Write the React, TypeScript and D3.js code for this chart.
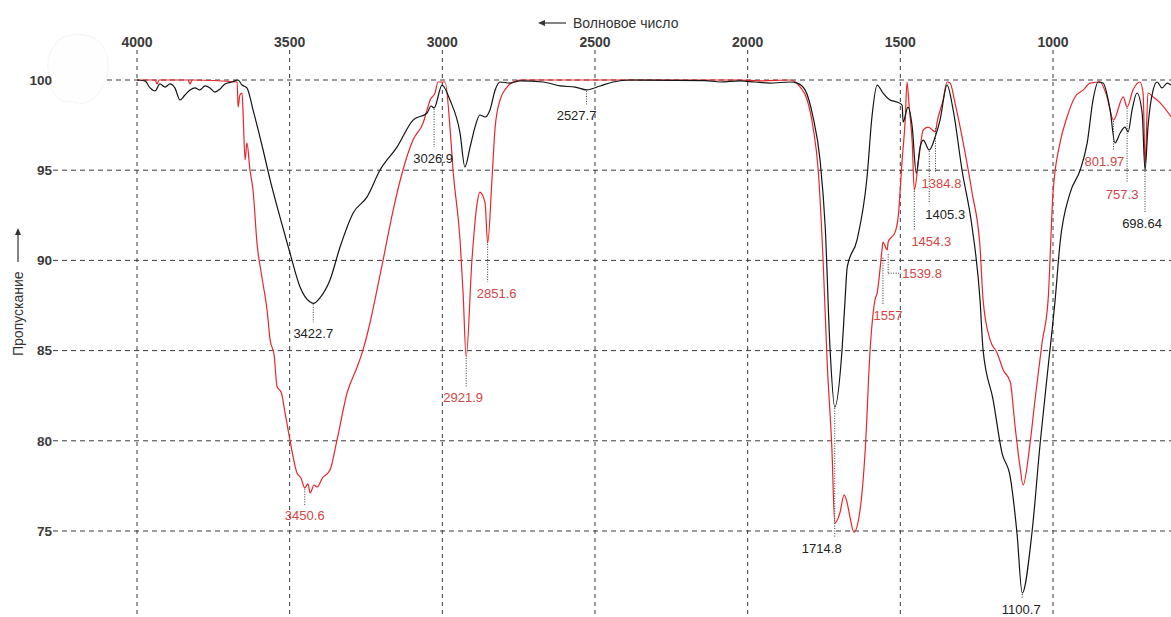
import React from 'react';
import * as d3 from 'd3';

const W = 1171;
const H = 617;

const xTicks = [4000, 3500, 3000, 2500, 2000, 1500, 1000];
const yTicks = [100, 95, 90, 85, 80, 75];

// sample 1 (black) : [wavenumber, transmittance]
const blackSpectrum: [number, number][] = [
  [4000, 100], [3974, 99.95], [3957, 99.56], [3941, 99.39], [3925, 99.78], [3908, 99.61], [3892, 99.78],
  [3876, 99.56], [3859, 98.89], [3843, 99.17], [3826, 99.45], [3810, 99.56], [3794, 99.45], [3777, 99.67],
  [3761, 99.56], [3745, 99.33], [3728, 99.5], [3712, 99.78], [3689, 99.89], [3669, 100], [3656, 99.72],
  [3640, 99.56], [3620, 98.34], [3587, 96.12], [3564, 94.46], [3532, 92.41], [3499, 90.41], [3466, 88.53],
  [3433, 87.69], [3422.7, 87.62], [3401, 87.92], [3368, 88.91], [3335, 90.74], [3292, 92.63], [3247, 93.51],
  [3204, 95.01], [3148, 96.29], [3096, 97.78], [3050, 98.17], [3037, 98.56], [3026.9, 98.45], [3001, 99.72],
  [2975, 98.89], [2942, 97.06], [2926, 95.18], [2909, 96.29], [2893, 97.39], [2877, 98.06], [2860, 97.95],
  [2844, 98.34], [2827, 99.45], [2811, 99.89], [2778, 99.83], [2745, 99.95], [2670, 99.89], [2614, 99.67],
  [2565, 99.61], [2527.7, 99.45], [2483, 99.67], [2441, 99.89], [2385, 100], [2140, 99.97], [2090, 99.89],
  [2025, 99.95], [1976, 99.89], [1927, 99.83], [1861, 99.89], [1838, 99.83], [1812, 99.45], [1786, 97.95],
  [1763, 95.57], [1746, 91.85], [1730, 85.03], [1714.8, 81.87], [1691, 85.03], [1681, 87.81], [1674, 89.63],
  [1642, 91.13], [1609, 94.62], [1593, 97.95], [1576, 99.72], [1557, 99.28], [1534, 98.89], [1511, 98.78],
  [1494, 98.61], [1491, 97.67], [1475, 98.5], [1461, 97.39], [1448, 94.84], [1435, 96.29], [1425, 96.67],
  [1405.3, 96.12], [1386, 96.84], [1370, 97.78], [1347, 99.72], [1327, 98.34], [1298, 95.01], [1265, 91.85],
  [1239, 87.81], [1229, 85.03], [1196, 82.26], [1167, 79.32], [1140, 77.99], [1118, 74.89], [1100.7, 71.56],
  [1069, 74.89], [1042, 79.88], [1016, 84.09], [993, 87.81], [977, 90.96], [944, 93.74], [911, 95.01],
  [888, 96.51], [869, 98.89], [852, 99.89], [836, 99.83], [813, 98.34], [797, 96.51], [780, 97.06],
  [764, 97.39], [754, 97.12], [741, 98.34], [725, 99.28], [708, 98.17], [698.64, 95.01], [689, 97.39],
  [672, 99.45], [659, 99.89], [643, 99.56], [626, 99.83], [613, 99.72],
];

// sample 2 (red)
const redSpectrum: [number, number][] = [
  [4000, 100], [3941, 100], [3934, 99.78], [3928, 100], [3833, 100], [3826, 99.78], [3820, 100],
  [3672, 99.89], [3669, 98.5], [3663, 99.17], [3656, 99.28], [3653, 98.34], [3646, 95.57], [3640, 96.51],
  [3630, 95.01], [3620, 93.9], [3607, 90.96], [3591, 89.08], [3574, 87.25], [3564, 85.59], [3551, 84.76],
  [3541, 82.98], [3528, 82.71], [3515, 81.54], [3499, 80.04], [3476, 78.22], [3463, 77.94], [3450.6, 77.39],
  [3440, 77.61], [3433, 77.11], [3420, 77.55], [3410, 77.44], [3391, 77.99], [3378, 78.16], [3368, 78.38],
  [3345, 80.04], [3312, 82.65], [3279, 84.09], [3260, 85.03], [3237, 86.53], [3214, 88.36], [3194, 90.02],
  [3161, 92.79], [3129, 95.01], [3096, 96.67], [3063, 97.62], [3050, 98.34], [3040, 98.89], [3024, 99.28],
  [3014, 99.89], [2991, 99.89], [2975, 97.39], [2965, 95.01], [2942, 91.13], [2932, 88.19], [2921.9, 84.65],
  [2903, 90.02], [2886, 93.18], [2877, 93.79], [2860, 93.18], [2851.6, 90.96], [2837, 94.62], [2827, 97.39],
  [2811, 98.89], [2788, 99.61], [2768, 99.89], [2745, 100], [2025, 100], [1959, 99.95], [1861, 100],
  [1828, 99.61], [1805, 98.89], [1786, 97.39], [1769, 95.01], [1753, 90.02], [1740, 84.48], [1724, 79.49],
  [1714.8, 75.44], [1698, 76.0], [1684, 77.0], [1674, 76.55], [1665, 75.78], [1652, 74.94], [1632, 76.16],
  [1615, 79.49], [1599, 85.03], [1583, 87.81], [1576, 88.19], [1560, 90.58], [1557, 91.02], [1543, 90.58],
  [1539.8, 91.02], [1517, 91.57], [1507, 92.41], [1494, 95.57], [1484, 97.78], [1478, 99.89], [1471, 98.5],
  [1461, 96.51], [1454.3, 93.9], [1439, 95.73], [1425, 97.23], [1409, 97.39], [1384.8, 97.12], [1380, 97.62],
  [1360, 98.89], [1347, 99.89], [1337, 99.83], [1321, 98.73], [1294, 96.51], [1265, 93.74], [1239, 90.74],
  [1229, 87.81], [1206, 85.59], [1183, 84.87], [1163, 83.93], [1140, 83.26], [1124, 80.77], [1108, 78.55],
  [1098, 77.55], [1075, 79.88], [1059, 82.26], [1036, 85.42], [1016, 87.81], [1000, 93.74], [977, 96.51],
  [954, 97.95], [928, 99.06], [901, 99.45], [878, 99.83], [846, 99.89], [823, 99.06], [801.97, 97.78],
  [770, 99.06], [757.3, 98.5], [738, 99.45], [715, 99.89], [705, 99.28], [698, 95.4], [689, 99.28],
  [672, 99.06], [649, 98.73], [613, 97.95],
];

// peak annotations
const annText = ['3422.7', '3026.9', '2527.7', '1714.8', '1405.3', '698.64', '1100.7',
  '3450.6', '2921.9', '2851.6', '1557', '1539.8', '1454.3', '1384.8', '801.97', '757.3'];
const annWn = [3422.7, 3026.9, 2527.7, 1714.8, 1405.3, 698.64, 1100.7,
  3450.6, 2921.9, 2851.6, 1557, 1539.8, 1454.3, 1384.8, 801.97, 757.3];
const annT = [87.62, 98.45, 99.45, 81.87, 96.12, 95.01, 71.56,
  77.39, 84.65, 90.96, 90.2, 90.4, 93.9, 97.39, 97.78, 98.5];
const annSeries = ['b', 'b', 'b', 'b', 'b', 'b', 'b', 'r', 'r', 'r', 'r', 'r', 'r', 'r', 'r', 'r'];

// layout of annotation leaders (px)
const annLeader = [19, 39, 15, 130, 53, 42, 5, 17, 30, 39, 48, 20, 40, 45, 30, 76];
const annDx = [0, -1, -10, -13, 16, -3, -1, 0, -3, 9, 5, 0, 17, 6, -9, -5];
const annElbow = [0, 0, 0, 0, 0, 0, 0, 0, 0, 0, 0, 13, 0, 0, 0, 0];

const BLACK = '#141414';
const RED = '#e8262a';
const RED_TEXT = '#d24545';
const TEXT = '#333';
const FONT = 'Liberation Sans, Arial, sans-serif';

export default function App() {
  const x = d3.scaleLinear().domain([4000, 1000]).range([137, 1053]);
  const y = d3.scaleLinear().domain([100, 75]).range([80, 531]);
  const line = d3
    .line<[number, number]>()
    .x((d) => x(d[0]))
    .y((d) => y(d[1]))
    .curve(d3.curveMonotoneX);

  return (
    <svg
      width={W}
      height={H}
      style={{ position: 'absolute', left: 0, top: 0, background: '#fff' }}
      fontFamily={FONT}
    >
      <defs>
        <clipPath id="plot">
          <rect x={137} y={0} width={W - 137} height={H} />
        </clipPath>
      </defs>
      <rect x={0} y={0} width={W} height={H} fill="#fff" />

      {/* horizontal grid */}
      {yTicks.map((t) => (
        <line key={'h' + t} x1={53} x2={W} y1={y(t)} y2={y(t)} stroke="#3a3a3a" strokeDasharray="5,4" strokeWidth={1} />
      ))}
      {/* vertical grid */}
      {xTicks.map((t) => (
        <line key={'v' + t} x1={x(t)} x2={x(t)} y1={50} y2={H} stroke="#3a3a3a" strokeDasharray="4,4" strokeWidth={1} />
      ))}

      {/* faint blob */}
      <path
        d="M56,44 C60,32 94,31 101,44 C111,54 110,79 101,89 C96,101 82,107 72,101 C60,105 49,92 52,81 C45,70 47,52 56,44 Z"
        fill="#fefefe"
        stroke="#e6e6e6"
        strokeDasharray="1,1.5"
      />

      {/* tick labels */}
      {xTicks.map((t) => (
        <text key={'xt' + t} x={x(t)} y={47} textAnchor="middle" fontSize={14} fontWeight="bold" fill="#3a3a3a">
          {t}
        </text>
      ))}
      {yTicks.map((t) => (
        <text key={'yt' + t} x={52} y={y(t)} dy="0.35em" textAnchor="end" fontSize={13.5} fontWeight="bold" fill="#3a3a3a">
          {t}
        </text>
      ))}

      {/* axis titles */}
      <g>
        <line x1={566} x2={541} y1={23} y2={23} stroke={TEXT} strokeWidth={1.2} />
        <path d="M538,23 L545,20 L545,26 Z" fill={TEXT} />
        <text x={573} y={28} fontSize={14} fill={TEXT}>
          Волновое число
        </text>
      </g>
      <g>
        <text transform="translate(23,356) rotate(-90)" fontSize={14} fill={TEXT}>
          Пропускание
        </text>
        <line x1={18} x2={18} y1={262} y2={232} stroke={TEXT} strokeWidth={1.2} />
        <path d="M18,228 L15,235 L21,235 Z" fill={TEXT} />
      </g>

      {/* spectra */}
      <g clipPath="url(#plot)">
        <path d={line(redSpectrum) || ''} fill="none" stroke={RED} strokeWidth={1.2} strokeLinejoin="round" />
        <path d={line(blackSpectrum) || ''} fill="none" stroke={BLACK} strokeWidth={1.2} strokeLinejoin="round" />
      </g>

      {/* annotations */}
      {annText.map((txt, i) => {
        const px = x(annWn[i]);
        const py = y(annT[i]);
        const endY = py + annLeader[i];
        const color = annSeries[i] === 'r' ? RED_TEXT : '#222';
        const elbow = annElbow[i];
        return (
          <g key={'a' + i}>
            <line x1={px} x2={px} y1={py + 1} y2={endY} stroke="#333" strokeWidth={1} strokeDasharray="1,1.5" />
            {elbow > 0 && (
              <line x1={px} x2={px + elbow} y1={endY} y2={endY} stroke="#333" strokeWidth={1} strokeDasharray="1,1.5" />
            )}
            {elbow > 0 ? (
              <text x={px + elbow + 1} y={endY} dy="0.35em" textAnchor="start" fontSize={13} fill={color}>
                {txt}
              </text>
            ) : (
              <text x={px + annDx[i]} y={endY + 11} dy="0.35em" textAnchor="middle" fontSize={13} fill={color}>
                {txt}
              </text>
            )}
          </g>
        );
      })}
    </svg>
  );
}
